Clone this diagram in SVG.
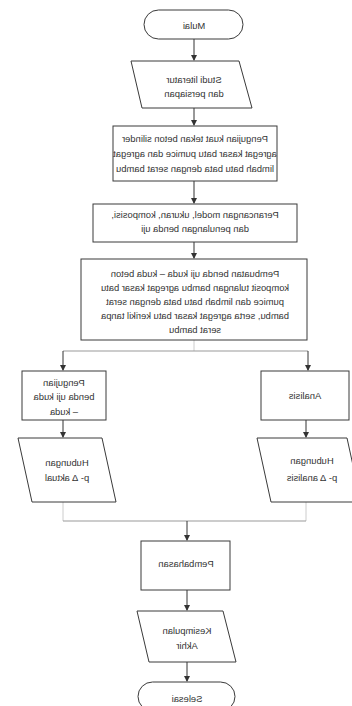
<svg xmlns="http://www.w3.org/2000/svg" width="352" height="706" viewBox="0 0 352 706">
<style>
.s{fill:#fff;stroke:#3a3a3a;stroke-width:1}
.t{font-family:"Liberation Sans",Arial,sans-serif;font-size:9.4px;fill:#333;text-anchor:middle}
.c{fill:none;stroke:#333;stroke-width:1}
.g{fill:none;stroke:#999;stroke-width:1}
.lg{fill:none;stroke:#ccc;stroke-width:1}
</style>
<defs>
<marker id="ah" markerWidth="6" markerHeight="6" refX="5" refY="3" orient="auto" markerUnits="userSpaceOnUse">
<path d="M0,0 L6,3 L0,6 z" fill="#333"/>
</marker>
</defs>
<rect width="352" height="706" fill="#fff"/>
<g id="connectors">
<line class="c" x1="194" y1="39" x2="194" y2="60" marker-end="url(#ah)"/>
<line class="c" x1="194" y1="108" x2="194" y2="125" marker-end="url(#ah)"/>
<line class="c" x1="194" y1="181" x2="194" y2="203" marker-end="url(#ah)"/>
<line class="c" x1="194" y1="242" x2="194" y2="258" marker-end="url(#ah)"/>
<line class="lg" x1="194" y1="340" x2="194" y2="351"/>
<line class="g" x1="63" y1="351" x2="308" y2="351"/>
<line class="c" x1="63" y1="351" x2="63" y2="370" marker-end="url(#ah)"/>
<line class="c" x1="308" y1="351" x2="308" y2="370" marker-end="url(#ah)"/>
<line class="c" x1="63" y1="420" x2="63" y2="437" marker-end="url(#ah)"/>
<line class="c" x1="306" y1="420" x2="306" y2="437" marker-end="url(#ah)"/>
<line class="lg" x1="63" y1="502" x2="63" y2="521"/>
<line class="lg" x1="306" y1="502" x2="306" y2="521"/>
<line class="g" x1="63" y1="521" x2="306" y2="521"/>
<line class="c" x1="187" y1="521" x2="187" y2="540" marker-end="url(#ah)"/>
<line class="c" x1="187" y1="590" x2="187" y2="610" marker-end="url(#ah)"/>
<line class="c" x1="187" y1="662" x2="187" y2="681" marker-end="url(#ah)"/>
</g>
<g id="mulai">
<rect class="s" x="144" y="10" width="99" height="29" rx="14.5"/>
<g transform="translate(388,0) scale(-1,1)"><text class="t" x="194" y="28.5">Mulai</text></g>
</g>
<g id="studi">
<polygon class="s" points="131,61 239,61 252,108 142,108"/>
<g transform="translate(388,0) scale(-1,1)"><text class="t" x="194" y="82.5">Studi literatur</text><text class="t" x="194" y="96.5">dan persiapan</text></g>
</g>
<g id="pengujian-silinder">
<rect class="s" x="113" y="126" width="164" height="55"/>
<g transform="translate(390,0) scale(-1,1)"><text class="t" x="195" y="141.5">Pengujian kuat tekan beton silinder</text><text class="t" x="195" y="156.5">agregat kasar batu pumice dan agregat</text><text class="t" x="195" y="171.5">limbah batu bata dengan serat bambu</text></g>
</g>
<g id="perancangan">
<rect class="s" x="93" y="204" width="204" height="38"/>
<g transform="translate(390,0) scale(-1,1)"><text class="t" x="195" y="217.5">Perancangan model, ukuran, komposisi,</text><text class="t" x="195" y="231.5">dan penulangan benda uji</text></g>
</g>
<g id="pembuatan">
<rect class="s" x="81" y="259" width="226" height="81"/>
<g transform="translate(390,0) scale(-1,1)"><text class="t" x="195" y="276.5">Pembuatan benda uji kuda – kuda beton</text><text class="t" x="195" y="290.5">komposit tulangan bambu agregat kasar batu</text><text class="t" x="195" y="304.5">pumice dan limbah batu bata dengan serat</text><text class="t" x="195" y="318.5">bambu, serta agregat kasar batu kerikil tanpa</text><text class="t" x="195" y="332.5">serat bambu</text></g>
</g>
<g id="pengujian-kuda">
<rect class="s" x="22" y="371" width="84" height="49"/>
<g transform="translate(128,0) scale(-1,1)"><text class="t" x="64" y="385.5">Pengujian</text><text class="t" x="64" y="400">benda uji kuda</text><text class="t" x="64" y="414.5">– kuda</text></g>
</g>
<g id="analisis">
<rect class="s" x="261" y="371" width="88" height="49"/>
<g transform="translate(610,0) scale(-1,1)"><text class="t" x="305" y="399">Analisis</text></g>
</g>
<g id="hubungan-aktual">
<polygon class="s" points="18,438 102,438 116,502 32,502"/>
<g transform="translate(134,0) scale(-1,1)"><text class="t" x="67" y="465.5">Hubungan</text><text class="t" x="67" y="480.5">p- Δ aktual</text></g>
</g>
<g id="hubungan-analisis">
<polygon class="s" points="257,438 347,438 361,502 271,502"/>
<g transform="translate(624,0) scale(-1,1)"><text class="t" x="312" y="463.5">Hubungan</text><text class="t" x="312" y="480.5">p- Δ analisis</text></g>
</g>
<g id="pembahasan">
<rect class="s" x="141" y="541" width="89" height="49"/>
<g transform="translate(372,0) scale(-1,1)"><text class="t" x="186" y="566.5">Pembahasan</text></g>
</g>
<g id="kesimpulan">
<polygon class="s" points="137,611 223,611 236,662 149,662"/>
<g transform="translate(374,0) scale(-1,1)"><text class="t" x="187" y="633.5">Kesimpulan</text><text class="t" x="187" y="648.5">Akhir</text></g>
</g>
<g id="selesai">
<rect class="s" x="138" y="682" width="97" height="29" rx="14.5"/>
<g transform="translate(374,0) scale(-1,1)"><text class="t" x="187" y="701.5">Selesai</text></g>
</g>
</svg>
